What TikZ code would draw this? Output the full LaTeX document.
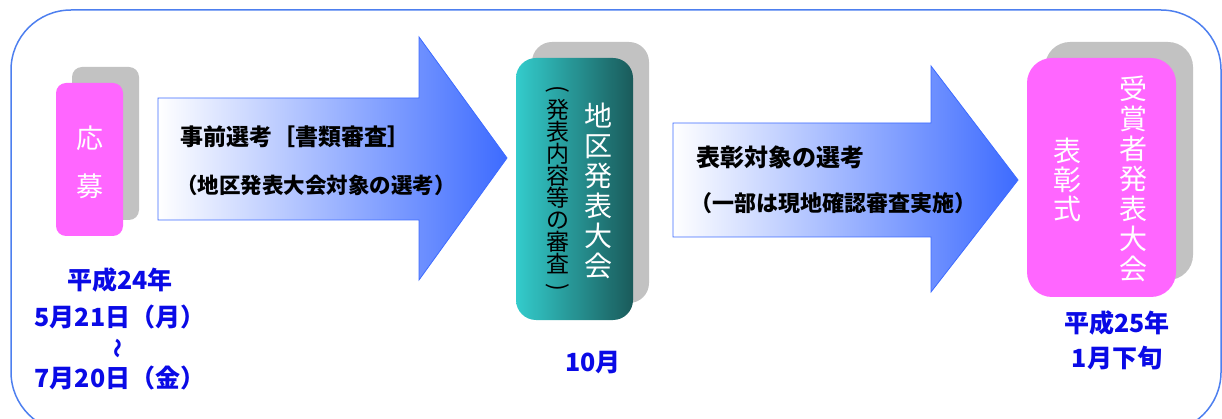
\documentclass[tikz,border=0pt]{standalone}
\usepackage{fontspec}
\setmainfont{Noto Sans CJK JP}
\usetikzlibrary{shapes, arrows}

\definecolor{kpink}{HTML}{FF66FF}
\definecolor{kgray}{HTML}{C2C2C2}
\definecolor{kteal}{HTML}{33CCCC}
\definecolor{kdteal}{HTML}{1A5A5A}
\definecolor{kblue}{HTML}{3D6BFF}
\definecolor{kframe}{HTML}{4D7FEF}
\definecolor{kdate}{HTML}{0A0AE6}

\newcommand{\tateparen}[1]{\rotatebox[origin=c]{-90}{#1}}

\tikzset{
  shadowbox/.style={rectangle, fill=kgray, inner sep=0pt},
  pinkbox/.style={rectangle, fill=kpink, inner sep=0pt},
  tealbox/.style={rectangle, left color=kteal, right color=kdteal, inner sep=0pt},
  bigarrow/.style={draw=kblue, line width=0.8pt, left color=white, right color=kblue},
  tate/.style={align=center, inner sep=0pt},
  arrowtext/.style={anchor=west, inner sep=0pt, font=\bfseries\fontsize{#1}{#1}\selectfont},
  datetext/.style={text=kdate, align=center, inner sep=0pt, font=\bfseries\fontsize{25}{37}\selectfont}
}

\begin{document}
\begin{tikzpicture}[x=1pt, y=-1pt]
\useasboundingbox (0,0) rectangle (1222,419);
\draw[kframe, line width=1.5pt, rounded corners=60pt] (11,10) rectangle (1221,432);

% applications
\node at (105.5,143.5) [shadowbox, rounded corners=10pt, minimum width=67pt, minimum height=153pt] (oubo-sh) {};
\node at (89.5,159.5) [pinkbox, rounded corners=10pt, minimum width=67pt, minimum height=153pt] (oubo) {};
\node at (89.5,162) [tate, text=white, font=\fontsize{27}{48}\selectfont] (oubo-t) {応\\募};
\node at (120,298.5) [datetext] (date1) {平成24年\\5月21日（月）};
\node at (120,348) [datetext, rotate=90, font=\bfseries\fontsize{20}{20}\selectfont] (date-wave) {～};
\node at (120,378) [datetext] (date2) {7月20日（金）};

% first selection
\path[bigarrow] (158,98) -- (419,98) -- (419,37) -- (507,158) -- (419,280) -- (419,220) -- (158,220) -- cycle;
\node at (180,137) [arrowtext=23] (sel1) {事前選考［書類審査］};
\node at (176,185) [arrowtext=21.5] (sel1-sub) {（地区発表大会対象の選考）};

% regional meeting
\node at (590.5,172.5) [shadowbox, rounded corners=20pt, minimum width=117pt, minimum height=261pt] (chiku-sh) {};
\node at (574.5,189) [tealbox, rounded corners=20pt, minimum width=117pt, minimum height=262pt] (chiku) {};
\node at (598,191) [tate, text=white, font=\fontsize{28}{30}\selectfont] (chiku-t) {地\\区\\発\\表\\大\\会};
\node at (558,190) [tate, font=\fontsize{23}{22}\selectfont] (chiku-sub) {\tateparen{(}\\発\\表\\内\\容\\等\\の\\審\\査\\\tateparen{)}};
\node at (593,363) [datetext] (date3) {10月};

% second selection
\path[bigarrow] (673,123) -- (931,123) -- (931,66) -- (1018,180) -- (931,292) -- (931,237) -- (673,237) -- cycle;
\node at (696,157) [arrowtext=24] (sel2) {表彰対象の選考};
\node at (690,203) [arrowtext=22] (sel2-sub) {（一部は現地確認審査実施）};

% award ceremony
\node at (1119,161) [shadowbox, rounded corners=25pt, minimum width=148pt, minimum height=238pt] (hyosho-sh) {};
\node at (1101.5,177.5) [pinkbox, rounded corners=25pt, minimum width=149pt, minimum height=239pt] (hyosho) {};
\node at (1133,179) [tate, text=white, font=\fontsize{28}{30}\selectfont] (hyosho-t) {受\\賞\\者\\発\\表\\大\\会};
\node at (1067,180) [tate, text=white, font=\fontsize{28}{29}\selectfont] (hyosho-t2) {表\\彰\\式};
\node at (1117,340.5) [datetext, font=\bfseries\fontsize{25}{35}\selectfont] (date4) {平成25年\\1月下旬};
\end{tikzpicture}
\end{document}
